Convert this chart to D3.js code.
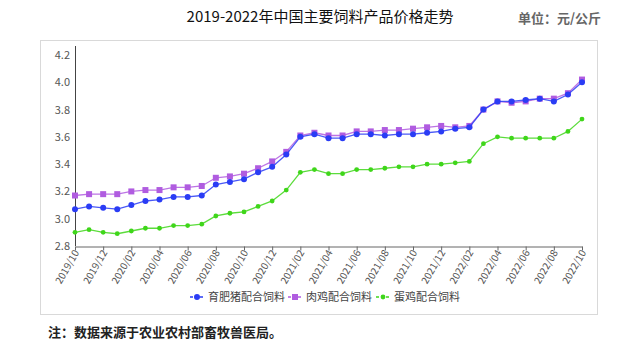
<!DOCTYPE html>
<html>
<head>
<meta charset="utf-8">
<script src="https://cdn.jsdelivr.net/npm/d3@7"></script>
<style>
body { margin: 0; background: #fff; }
</style>
</head>
<body>
<div id="chart"></div>
<script>
const months = ['2019/10','2019/11','2019/12','2020/01','2020/02','2020/03','2020/04','2020/05','2020/06','2020/07','2020/08','2020/09','2020/10','2020/11','2020/12','2021/01','2021/02','2021/03','2021/04','2021/05','2021/06','2021/07','2021/08','2021/09','2021/10','2021/11','2021/12','2022/01','2022/02','2022/03','2022/04','2022/05','2022/06','2022/07','2022/08','2022/09','2022/10']
const pigFeed = [3.07,3.09,3.08,3.07,3.10,3.13,3.14,3.16,3.16,3.17,3.25,3.27,3.29,3.34,3.38,3.47,3.60,3.62,3.59,3.59,3.62,3.62,3.61,3.62,3.62,3.63,3.64,3.66,3.67,3.80,3.86,3.86,3.87,3.88,3.86,3.91,4.00]
const broilerFeed = [3.17,3.18,3.18,3.18,3.20,3.21,3.21,3.23,3.23,3.24,3.30,3.31,3.33,3.37,3.42,3.49,3.61,3.63,3.61,3.61,3.64,3.64,3.65,3.65,3.66,3.67,3.68,3.67,3.68,3.80,3.86,3.85,3.86,3.88,3.88,3.92,4.02]
const layerFeed = [2.90,2.92,2.90,2.89,2.91,2.93,2.93,2.95,2.95,2.96,3.02,3.04,3.05,3.09,3.13,3.21,3.34,3.36,3.33,3.33,3.36,3.36,3.37,3.38,3.38,3.40,3.40,3.41,3.42,3.55,3.60,3.59,3.59,3.59,3.59,3.64,3.73]
const seriesNames = ['育肥猪配合饲料','肉鸡配合饲料','蛋鸡配合饲料']
const yTicks = [2.8,3.0,3.2,3.4,3.6,3.8,4.0,4.2]

const width = 644, height = 352
const font = "'Noto Sans CJK SC', 'Noto Sans', sans-serif"

const svg = d3.select('#chart').append('svg')
  .attr('width', width)
  .attr('height', height)
  .style('font-family', font)

// outer box
svg.append('rect')
  .attr('x', 40.5).attr('y', 40.5)
  .attr('width', 557).attr('height', 274)
  .attr('fill', 'none')
  .attr('stroke', '#d9d9d9')

svg.append('text')
  .attr('x', 320).attr('y', 22)
  .attr('text-anchor', 'middle')
  .style('font-size', '15px')
  .attr('fill', '#111')
  .text('2019-2022年中国主要饲料产品价格走势')

svg.append('text')
  .attr('x', 601).attr('y', 23)
  .attr('text-anchor', 'end')
  .style('font-size', '13px')
  .style('font-weight', 'bold')
  .attr('fill', '#666')
  .text('单位：元/公斤')

const x = d3.scalePoint().domain(months).range([75, 582])
const y = d3.scaleLinear().domain([2.8, 4.2]).range([246, 55])

// y axis
svg.append('line')
  .attr('x1', 75.5).attr('x2', 75.5)
  .attr('y1', 46).attr('y2', 246)
  .attr('stroke', '#444')

svg.selectAll('.ylab')
  .data(yTicks)
  .enter().append('text')
  .attr('class', 'ylab')
  .attr('x', 70)
  .attr('y', d => y(d) + 4)
  .attr('text-anchor', 'end')
  .style('font-size', '11px')
  .attr('fill', '#555')
  .text(d => d.toFixed(1))

// x axis
const xAxis = d3.axisBottom(x)
  .tickValues(months.filter((d, i) => i % 2 === 0))
  .tickSize(4)
  .tickSizeOuter(0)

const gx = svg.append('g')
  .attr('transform', 'translate(0,246.5)')
  .call(xAxis)
gx.select('.domain').attr('stroke', '#666')
gx.selectAll('.tick line').attr('stroke', '#666')
gx.selectAll('.tick text')
  .style('font-family', font)
  .style('font-size', '10px')
  .attr('fill', '#555')
  .attr('text-anchor', 'end')
  .attr('dy', 0)
  .attr('transform', 'translate(4,6) rotate(-60)')
  .attr('y', 0).attr('x', 0)

const series = [
  { name: seriesNames[0], values: pigFeed, color: '#2a3cf5', shape: 'circle' },
  { name: seriesNames[1], values: broilerFeed, color: '#b05ce0', shape: 'square' },
  { name: seriesNames[2], values: layerFeed, color: '#3fd61a', shape: 'diamond' }
]

const line = d3.line()
  .x((d, i) => x(months[i]))
  .y(d => y(d))

function drawMarker(g, shape, color, cx, cy) {
  if (shape === 'circle') {
    g.append('circle').attr('cx', cx).attr('cy', cy).attr('r', 3).attr('fill', color)
  } else if (shape === 'square') {
    g.append('rect').attr('x', cx - 3).attr('y', cy - 3).attr('width', 6).attr('height', 6).attr('fill', color)
  } else {
    g.append('circle').attr('cx', cx).attr('cy', cy).attr('r', 2.4).attr('fill', color)
  }
}

// draw broiler first, then layer, pig on top
;[series[1], series[2], series[0]].forEach(s => {
  svg.append('path')
    .datum(s.values)
    .attr('d', line)
    .attr('fill', 'none')
    .attr('stroke', s.color)
    .attr('stroke-width', 1.3)
    .attr('opacity', 0.85)
  const g = svg.append('g')
  s.values.forEach((v, i) => drawMarker(g, s.shape, s.color, x(months[i]), y(v)))
})

// legend
const legendX = [190, 288, 376]
series.forEach((s, i) => {
  const g = svg.append('g').attr('transform', 'translate(' + legendX[i] + ',297)')
  g.append('line')
    .attr('x1', 0).attr('x2', 14)
    .attr('stroke', s.color)
    .attr('stroke-width', 1.3)
    .attr('stroke-dasharray', '3,2')
  drawMarker(g, s.shape, s.color, 7, 0)
  g.append('text')
    .attr('x', 18).attr('y', 4)
    .style('font-size', '11px')
    .attr('fill', '#444')
    .text(s.name)
})

svg.append('text')
  .attr('x', 48).attr('y', 337)
  .style('font-size', '13px')
  .style('font-weight', 'bold')
  .attr('fill', '#222')
  .text('注：数据来源于农业农村部畜牧兽医局。')
</script>
</body>
</html>
